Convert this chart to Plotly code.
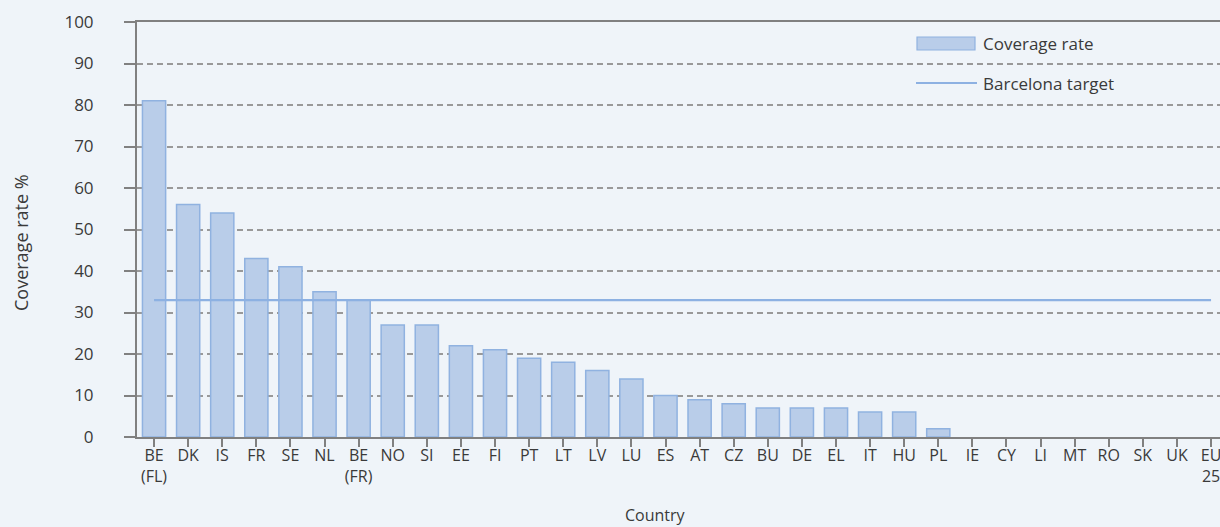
import plotly.graph_objects as go

# Childcare coverage rate by country vs Barcelona target.
countries = ["BE<br>(FL)", "DK", "IS", "FR", "SE", "NL", "BE<br>(FR)", "NO", "SI", "EE",
             "FI", "PT", "LT", "LV", "LU", "ES", "AT", "CZ", "BU", "DE",
             "EL", "IT", "HU", "PL", "IE", "CY", "LI", "MT", "RO", "SK",
             "UK", "EU<br>25"]
coverage = [81, 56, 54, 43, 41, 35, 33, 27, 27, 22,
            21, 19, 18, 16, 14, 10, 9, 8, 7, 7,
            7, 6, 6, 2, 0, 0, 0, 0, 0, 0,
            0, 0]
target = [33] * len(countries)
y_ticks = [0, 10, 20, 30, 40, 50, 60, 70, 80, 90, 100]

# unique x keys (BE appears twice)
x_keys = list(range(len(countries)))

W, H = 1220, 527
L, T, B = 137, 22, 90
plot_w = W - L
plot_h = H - T - B

def px_x(p):
    return (p - L) / plot_w

def px_y(p):
    return (H - B - p) / plot_h

bg = "#eff4f9"
bar_fill = "#b9cde9"
bar_line = "#90b2e0"
target_col = "#8db1e2"
grey = "#808080"
txt = "#3a3a3a"
font = "Open Sans"

# no outline on empty bars, so nothing shows along the axis
bar_edge = [1.5 if v > 0 else 0 for v in coverage]

fig = go.Figure()
fig.add_trace(go.Bar(x=x_keys, y=coverage, name="Coverage rate", width=0.68,
                     marker=dict(color=bar_fill, line=dict(color=bar_line, width=bar_edge)),
                     showlegend=False))
fig.add_trace(go.Scatter(x=x_keys, y=target, name="Barcelona target", mode="lines",
                         line=dict(color=target_col, width=2.2), showlegend=False))

# hand drawn legend
fig.add_shape(type="rect", xref="paper", yref="paper",
              x0=px_x(917), x1=px_x(975), y0=px_y(50), y1=px_y(37),
              fillcolor=bar_fill, line=dict(color=bar_line, width=1.2))
fig.add_shape(type="line", xref="paper", yref="paper",
              x0=px_x(916), x1=px_x(977), y0=px_y(83), y1=px_y(83),
              line=dict(color=target_col, width=2.2))
fig.add_annotation(text="Coverage rate", xref="paper", yref="paper", x=px_x(981), y=px_y(43),
                   xanchor="left", yanchor="middle", showarrow=False,
                   font=dict(size=17, color=txt, family=font))
fig.add_annotation(text="Barcelona target", xref="paper", yref="paper", x=px_x(981), y=px_y(83),
                   xanchor="left", yanchor="middle", showarrow=False,
                   font=dict(size=17, color=txt, family=font))

# axis titles
fig.add_annotation(text="Country", xref="paper", yref="paper", x=px_x(655), y=px_y(515),
                   xanchor="center", yanchor="middle", showarrow=False,
                   font=dict(size=16, color=txt, family=font))
fig.add_annotation(text="Coverage rate %", xref="paper", yref="paper", x=px_x(21), y=px_y(243),
                   xanchor="center", yanchor="middle", showarrow=False, textangle=-90,
                   font=dict(size=18, color=txt, family=font))

cat_w = (1194 - 137) / 31
fig.update_xaxes(range=[-0.5, -0.5 + plot_w / cat_w], tickmode="array", tickvals=x_keys,
                 ticktext=countries, tickson="boundaries", ticks="outside", ticklen=8,
                 tickwidth=2, tickcolor=grey, showline=True, linecolor=grey, linewidth=2,
                 mirror=True, showgrid=False, tickangle=0, ticklabeloverflow="allow",
                 ticklabelstandoff=-5,
                 tickfont=dict(size=16, color=txt, family=font))
fig.update_yaxes(range=[0, 100], tickvals=y_ticks, ticks="outside", ticklen=11, tickwidth=2,
                 tickcolor=grey, showline=True, linecolor=grey, linewidth=2,
                 showgrid=True, gridcolor="#999999", gridwidth=1.5, griddash="6px,4px",
                 zeroline=False, ticklabelstandoff=27,
                 tickfont=dict(size=17, color=txt, family=font))

fig.update_layout(width=W, height=H, margin=dict(l=L, r=0, t=T, b=B, autoexpand=False),
                  paper_bgcolor=bg, plot_bgcolor=bg,
                  font=dict(family=font, color=txt), bargap=0.3)

# drop the page's default body margin so the figure sits at the window corner
fig.write_html("out.html", config={"displayModeBar": False},
               post_script="document.body.style.margin='0';document.body.style.background='%s';" % bg)
